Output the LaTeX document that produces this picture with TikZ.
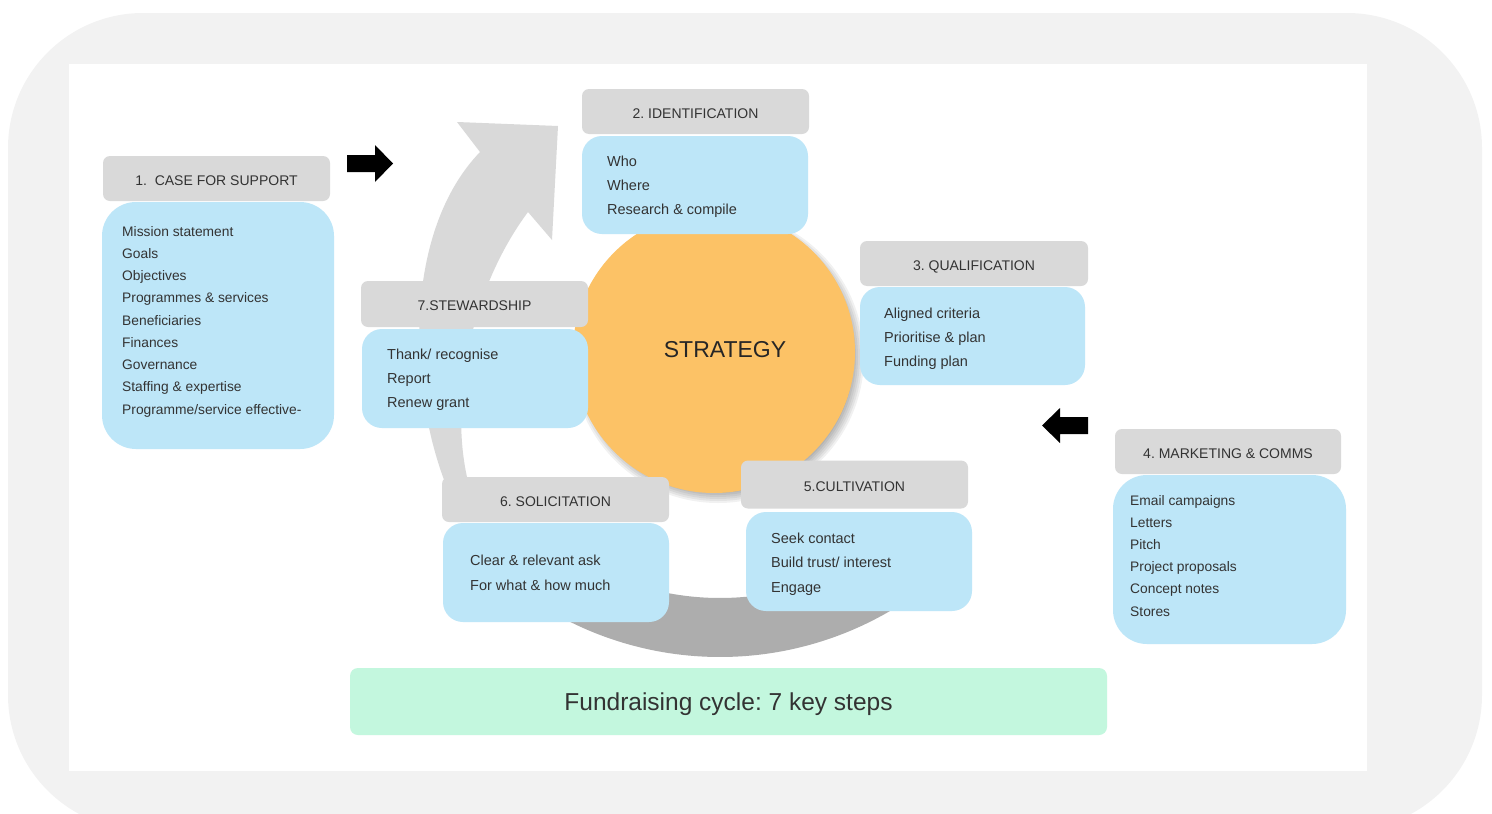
\documentclass[tikz,border=0pt]{standalone}
\usepackage{fontspec}
\setmainfont{Liberation Sans}
\frenchspacing
\definecolor{bggray}{HTML}{F2F2F2}
\definecolor{hdrgray}{HTML}{D9D9D9}
\definecolor{bodyblue}{HTML}{BDE6F8}
\definecolor{stratorange}{HTML}{FCC266}
\definecolor{mint}{HTML}{C3F7DE}
\definecolor{arcdark}{HTML}{ADADAD}
\definecolor{arclight}{HTML}{D9D9D9}
\definecolor{txt}{HTML}{333333}
\begin{document}
\begin{tikzpicture}[x=1pt,y=-1pt,
  hdr/.style={fill=hdrgray, rounded corners=7pt, inner sep=0pt, outer sep=0pt,
    minimum height=45pt, font=\fontsize{14}{16}\selectfont, text=txt,
    text height=13pt, text depth=0pt},
  bodybox/.style={fill=bodyblue, rounded corners=20pt, inner sep=0pt, outer sep=0pt},
  bigbody/.style={fill=bodyblue, rounded corners=34pt, inner sep=0pt, outer sep=0pt},
  item/.style={font=\fontsize{14.5}{16}\selectfont, text=txt, anchor=west,
    inner sep=0pt, text height=10pt, text depth=0pt},
  smallitem/.style={item, font=\fontsize{13.8}{16}\selectfont},
]
\useasboundingbox (0,0) rectangle (1492,814);
% background
\fill[bggray, rounded corners=135pt] (8,13) rectangle (1482,830);
\fill[white] (69,64) rectangle (1367,771);

% cycle arrow: dark bottom arc
\fill[arcdark] (720,320) ++(55:337) arc[start angle=55, end angle=120, radius=337]
  -- ++(120:-59) arc[start angle=120, end angle=55, radius=278] -- cycle;
% cycle arrow: light curved arrow with head
\fill[arclight] (450,495) -- (443,477) .. controls (408,380) and (405,230) .. (480,152)
  -- (457,122) -- (558,126) -- (552,240) -- (528,212)
  .. controls (470,290) and (450,400) .. (467,477) -- (471,495) -- cycle;

% strategy circle with shadow
\foreach \r in {134,136,...,146} \fill[black, opacity=0.055] (718,357) circle (\r);
\node[circle, fill=stratorange, minimum size=282pt, inner sep=0pt] (strat) at (714,352) {};
\node[font=\fontsize{23}{26}\selectfont, text=black!85, inner sep=0pt] (strattxt) at (725,350) {STRATEGY};

% black block arrows
\fill[black] (347,155) -- (375,155) -- (375,145) -- (393,163.5) -- (375,182) -- (375,172) -- (347,172) -- cycle;
\fill[black] (1088,417) -- (1060,417) -- (1060,408) -- (1042,425.5) -- (1060,443) -- (1060,434) -- (1088,434) -- cycle;

% 1. case for support
\node[hdr, minimum width=227pt] (h1) at (216.5,178.5) {1.\ \ CASE FOR SUPPORT};
\node[bigbody, minimum width=232pt, minimum height=247pt] (b1) at (218,325.5) {};
\foreach \t [count=\i] in {Mission statement, Goals, Objectives, Programmes \& services,
  Beneficiaries, Finances, Governance, Staffing \& expertise, Programme/service effective-}
  \node[smallitem] (b1t\i) at (122,{231+22.25*(\i-1)}) {\t};

% 2. identification
\node[hdr, minimum width=227pt] (h2) at (695.5,111.5) {2. IDENTIFICATION};
\node[bodybox, minimum width=226pt, minimum height=98pt] (b2) at (695,185) {};
\foreach \t [count=\i] in {Who, Where, Research \& compile}
  \node[item] (b2t\i) at (607,{161+24*(\i-1)}) {\t};

% 3. qualification
\node[hdr, minimum width=228pt] (h3) at (974,263.5) {3. QUALIFICATION};
\node[bodybox, minimum width=225pt, minimum height=98pt] (b3) at (972.5,336) {};
\foreach \t [count=\i] in {Aligned criteria, Prioritise \& plan, Funding plan}
  \node[item] (b3t\i) at (884,{313+24*(\i-1)}) {\t};

% 4. marketing & comms
\node[hdr, minimum width=226pt] (h4) at (1228,451.5) {4. MARKETING \& COMMS};
\node[bigbody, minimum width=233pt, minimum height=169pt] (b4) at (1229.5,559.5) {};
\foreach \t [count=\i] in {Email campaigns, Letters, Pitch, Project proposals, Concept notes, Stores}
  \node[smallitem] (b4t\i) at (1130,{500+22.2*(\i-1)}) {\t};

% 5. cultivation
\node[hdr, minimum width=227pt, minimum height=48pt] (h5) at (854.5,484.5) {5.CULTIVATION};
\node[bodybox, minimum width=226pt, minimum height=99pt] (b5) at (859,561.5) {};
\foreach \t [count=\i] in {Seek contact, Build trust/ interest, Engage}
  \node[item] (b5t\i) at (771,{538+24.5*(\i-1)}) {\t};

% 6. solicitation
\node[hdr, minimum width=227pt] (h6) at (555.5,499.5) {6. SOLICITATION};
\node[bodybox, minimum width=226pt, minimum height=99pt] (b6) at (556,572.5) {};
\foreach \t [count=\i] in {Clear \& relevant ask, For what \& how much}
  \node[item] (b6t\i) at (470,{560+25*(\i-1)}) {\t};

% 7. stewardship
\node[hdr, minimum width=227pt, minimum height=46pt] (h7) at (474.5,304) {7.STEWARDSHIP};
\node[bodybox, minimum width=226pt, minimum height=99pt] (b7) at (475,378.5) {};
\foreach \t [count=\i] in {Thank/ recognise, Report, Renew grant}
  \node[item] (b7t\i) at (387,{354+24*(\i-1)}) {\t};

% title bar
\node[fill=mint, rounded corners=8pt, minimum width=757pt, minimum height=67pt,
  inner sep=0pt, font=\fontsize{24.5}{28}\selectfont, text=txt,
  text height=17pt, text depth=0pt] (title) at (728.5,701.5) {Fundraising cycle: 7 key steps};
\end{tikzpicture}
\end{document}
